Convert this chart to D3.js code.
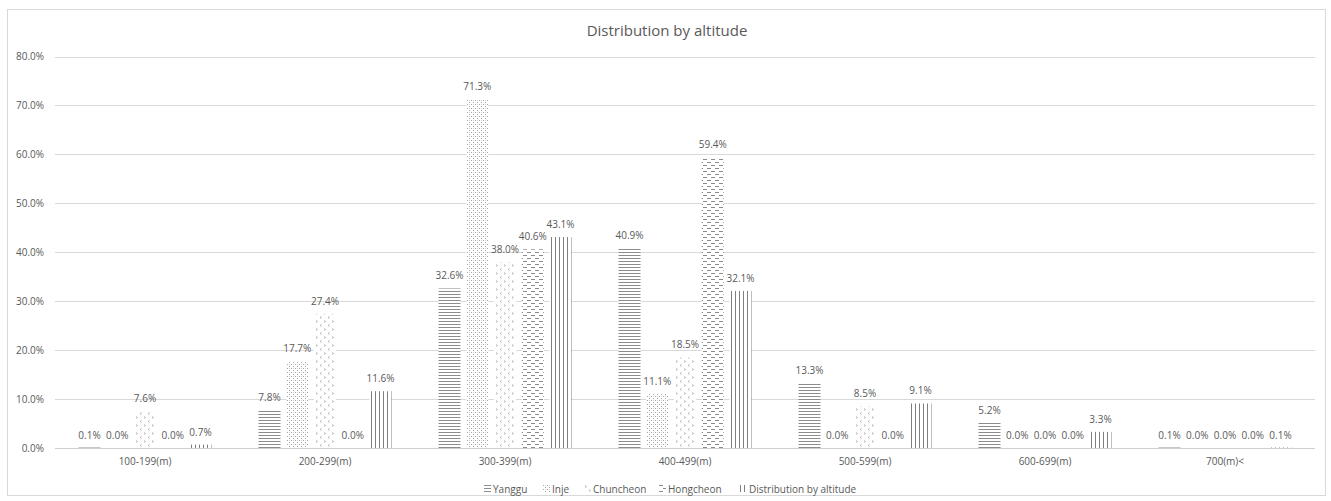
<!DOCTYPE html>
<html>
<head>
<meta charset="utf-8">
<script src="https://cdn.jsdelivr.net/npm/d3@7"></script>
<style>
  html, body { margin: 0; padding: 0; background: #fff; }
  svg { display: block; font-family: "Open Sans", "Noto Sans", sans-serif; }
</style>
</head>
<body>
<svg id="chart" width="1331" height="501"></svg>
<script>
// Altitude bands and share of area per region (percent)
const categories = ["100-199(m)", "200-299(m)", "300-399(m)", "400-499(m)", "500-599(m)", "600-699(m)", "700(m)<"];
const seriesNames = ["Yanggu", "Inje", "Chuncheon", "Hongcheon", "Distribution by altitude"];
const yanggu    = [0.1, 7.8, 32.6, 40.9, 13.3, 5.2, 0.1];
const inje      = [0.0, 17.7, 71.3, 11.1, 0.0, 0.0, 0.0];
const chuncheon = [7.6, 27.4, 38.0, 18.5, 8.5, 0.0, 0.0];
const hongcheon = [0.0, 0.0, 40.6, 59.4, 0.0, 0.0, 0.0];
const overall   = [0.7, 11.6, 43.1, 32.1, 9.1, 3.3, 0.1];
const yTicks = [0, 10, 20, 30, 40, 50, 60, 70, 80];

const seriesValues = [yanggu, inje, chuncheon, hongcheon, overall];

const svg = d3.select("#chart");
const plot = { left: 55, right: 1315, top: 56.5, bottom: 448 };
const textColor = "#595959";
const fontSize = 10;

// Fill patterns for each series
const defs = svg.append("defs");
const pat = (id, w, h) => defs.append("pattern").attr("id", id)
  .attr("patternUnits", "userSpaceOnUse").attr("width", w).attr("height", h);

// horizontal lines
let p = pat("p0", 6, 3);
p.append("rect").attr("width", 6).attr("height", 3).attr("fill", "#fff");
p.append("rect").attr("y", 0).attr("width", 6).attr("height", 1).attr("fill", "#8c8c8c");

// fine dots
p = pat("p1", 4, 4);
p.append("rect").attr("width", 4).attr("height", 4).attr("fill", "#fff");
[[0,0],[2,2],[2,0]].forEach(([x, y], i) =>
  p.append("rect").attr("x", x).attr("y", y).attr("width", 1).attr("height", 1)
    .attr("fill", i < 2 ? "#a6a6a6" : "#d6d6d6"));

// small chevrons
p = pat("p2", 8, 8);
p.append("rect").attr("width", 8).attr("height", 8).attr("fill", "#fff");
p.append("path").attr("d", "M1,0.5 L2.5,1.5 L1,2.5").attr("fill", "none").attr("stroke", "#a6a6a6").attr("stroke-width", 0.8);
p.append("path").attr("d", "M6.5,4.5 L5,5.5 L6.5,6.5").attr("fill", "none").attr("stroke", "#a6a6a6").attr("stroke-width", 0.8);

// staggered dashes
p = pat("p3", 8, 6);
p.append("rect").attr("width", 8).attr("height", 6).attr("fill", "#fff");
p.append("rect").attr("x", 0).attr("y", 0).attr("width", 4).attr("height", 1).attr("fill", "#8c8c8c");
p.append("rect").attr("x", 4).attr("y", 3).attr("width", 4).attr("height", 1).attr("fill", "#8c8c8c");

// vertical lines
p = pat("p4", 4, 6);
p.append("rect").attr("width", 4).attr("height", 6).attr("fill", "#fff");
p.append("rect").attr("x", 0).attr("width", 1).attr("height", 6).attr("fill", "#7f7f7f");

// Chart frame
svg.append("rect").attr("x", 7.5).attr("y", 9.5).attr("width", 1318).attr("height", 486)
  .attr("fill", "#fff").attr("stroke", "#d9d9d9");

// Scales
const x0 = d3.scaleBand().domain(categories).range([plot.left, plot.right]).padding(0);
const x1 = d3.scaleBand().domain(seriesNames).range([23.5, 156.5]).paddingInner(0.207).paddingOuter(0);
const y = d3.scaleLinear().domain([0, 80]).range([plot.bottom, plot.top]);

// Gridlines
svg.append("g").selectAll("line").data(yTicks.filter(d => d > 0)).join("line")
  .attr("x1", plot.left).attr("x2", plot.right)
  .attr("y1", d => Math.round(y(d)) + 0.5).attr("y2", d => Math.round(y(d)) + 0.5)
  .attr("stroke", "#d9d9d9").attr("stroke-width", 1);

// Y axis
const yAxis = svg.append("g").attr("transform", `translate(${plot.left},0)`)
  .call(d3.axisLeft(y).tickValues(yTicks).tickFormat(d => d.toFixed(1) + "%").tickSize(0).tickPadding(11));
yAxis.select(".domain").remove();
yAxis.selectAll("text").attr("fill", textColor).attr("font-size", fontSize).attr("font-family", "\"Open Sans\", sans-serif");

// Bars
const groups = svg.append("g").selectAll("g").data(categories).join("g")
  .attr("transform", d => `translate(${x0(d)},0)`);

const cells = (c, ci) => seriesNames.map((s, si) => ({ s, si, v: seriesValues[si][ci] }));

groups.selectAll("rect").data(cells)
  .join("rect")
  .attr("x", d => x1(d.s))
  .attr("width", x1.bandwidth())
  .attr("y", d => y(d.v))
  .attr("height", d => y(0) - y(d.v))
  .attr("fill", d => `url(#p${d.si})`);

// Value labels
groups.selectAll("text").data(cells)
  .join("text")
  .attr("x", d => x1(d.s) + x1.bandwidth() / 2)
  .attr("y", d => y(d.v) - 9)
  .attr("text-anchor", "middle")
  .attr("font-size", fontSize)
  .attr("fill", textColor)
  .text(d => d.v.toFixed(1) + "%");

// X axis
const xAxis = svg.append("g").attr("transform", `translate(0,${plot.bottom})`)
  .call(d3.axisBottom(x0).tickSize(0).tickPadding(10));
xAxis.select(".domain").attr("stroke", "#d0d0d0").attr("d", `M${plot.left},0.5H${plot.right}`);
xAxis.selectAll("text").attr("fill", textColor).attr("font-size", fontSize).attr("font-family", "\"Open Sans\", sans-serif");

// Title
svg.append("text").attr("x", 667).attr("y", 36).attr("text-anchor", "middle")
  .attr("font-size", 15).attr("fill", textColor).text("Distribution by altitude");

// Legend
const legendX = [484, 543, 584, 659, 740];
const legend = svg.append("g").selectAll("g").data(seriesNames).join("g")
  .attr("transform", (d, i) => `translate(${legendX[i]},485)`);
legend.append("rect").attr("width", 7).attr("height", 7).attr("fill", (d, i) => `url(#p${i})`);
legend.append("text").attr("x", 9).attr("y", 7.5).attr("font-size", fontSize).attr("fill", textColor).text(d => d);
</script>
</body>
</html>
